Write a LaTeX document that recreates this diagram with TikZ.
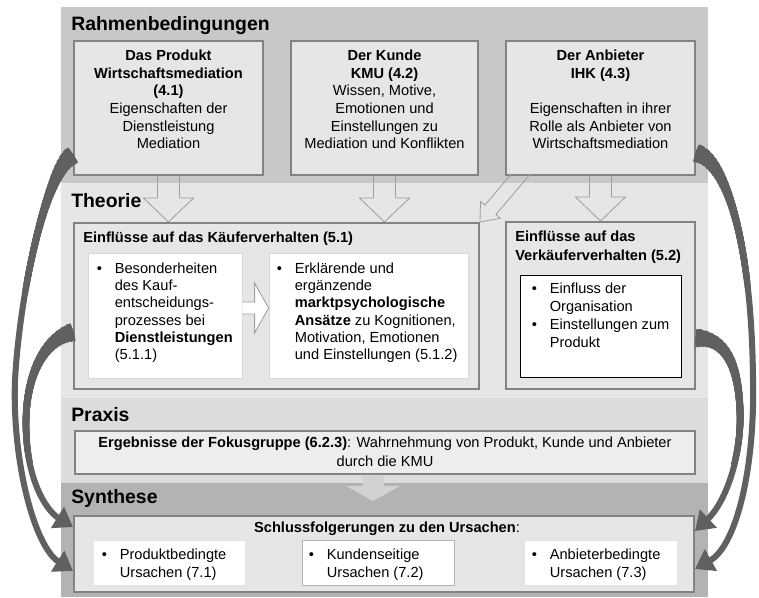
\documentclass[tikz,border=0pt]{standalone}
\usepackage{fontspec}
\setmainfont{Liberation Sans}
\usetikzlibrary{calc,fit,arrows.meta}

\definecolor{bandtop}{HTML}{C8C8C8}
\definecolor{bandtheo}{HTML}{E6E6E6}
\definecolor{bandprax}{HTML}{DCDCDC}
\definecolor{bandsyn}{HTML}{B3B3B3}
\definecolor{boxfill}{HTML}{E6E6E6}
\definecolor{boxline}{HTML}{828282}
\definecolor{swoosh}{HTML}{606060}
\definecolor{pfill}{HTML}{D2D2D2}

\tikzset{
  box/.style={draw=boxline, line width=1.4pt, fill=boxfill, inner sep=0pt},
  whitebox/.style={draw=gray!30, line width=0.6pt, fill=white, inner sep=0pt},
  title/.style={font=\fontsize{13.8}{16}\selectfont\bfseries, anchor=base west, inner sep=0pt},
  txt/.style={font=\fontsize{10.4}{12.6}\selectfont, inner sep=0pt},
  hollow/.style={draw=gray!75, line width=0.6pt},
  curve/.style={draw=swoosh, line width=4.3pt}
}

\newcommand{\bul}{\makebox[12.8pt][l]{\textbullet}}
\newcommand{\ind}{\hspace*{12.8pt}}
% hollow arrow pointing down: tail, tip
\newcommand{\downarrowshape}[2]{%
  \draw[hollow] ($(#1)+(-11,0)$) -- ($(#2)+(-11,-24)$) -- ($(#2)+(-25,-24)$) -- (#2)
    -- ($(#2)+(25,-24)$) -- ($(#2)+(11,-24)$) -- ($(#1)+(11,0)$);}
% thick curved arrow, thinner towards the tip
\newcommand{\swooshpath}[1]{%
  \draw[curve,-{Triangle[length=13pt,width=17pt]}] #1;
  \foreach \i in {1,...,30}{%
    \pgfmathsetmacro\tapw{0.7113*(6+12*exp(-(\i-1)*5/35))}%
    \pgfmathsetmacro\tapl{0.7113*5*\i}%
    \draw[curve,line width=\tapw pt,dash pattern=on \tapl pt off 3000pt] #1;
  }}

\begin{document}
\begin{tikzpicture}[x=0.025cm,y=-0.025cm]
\useasboundingbox (0,0) rectangle (759,598);

% bands
\fill[bandtop] (61,7) rectangle (708,183);
\fill[bandtheo] (61,183) rectangle (708,398);
\fill[bandprax] (61,398) rectangle (708,483);
\fill[bandsyn] (61,483) rectangle (708,597);

\node[title] (trahmen) at (71,30) {Rahmenbedingungen};
\node[title] (ttheorie) at (71,207) {Theorie};
\node[title] (tpraxis) at (71,421) {Praxis};
\node[title] (tsynthese) at (71,503) {Synthese};

% Rahmenbedingungen
\node[box, fit={(74,41) (263,175)}] (produkt) {};
\node[box, fit={(291,41) (478,175)}] (kunde) {};
\node[box, fit={(506,41) (695,175)}] (anbieter) {};

\node[txt, align=center, anchor=north] (produkttext) at ($(produkt.north)+(0,9.5)$)
  {\textbf{Das Produkt}\\\textbf{Wirtschaftsmediation}\\\textbf{(4.1)}\\Eigenschaften der\\Dienstleistung\\Mediation};
\node[txt, align=center, anchor=north] (kundetext) at ($(kunde.north)+(0,9.5)$)
  {\textbf{Der Kunde}\\\textbf{KMU (4.2)}\\Wissen, Motive,\\Emotionen und\\Einstellungen zu\\Mediation und Konflikten};
\node[txt, align=center, anchor=north] (anbietertext) at ($(anbieter.north)+(0,9.5)$)
  {\textbf{Der Anbieter}\\\textbf{IHK (4.3)}\\[12.6pt]Eigenschaften in ihrer\\Rolle als Anbieter von\\Wirtschaftsmediation};

% Theorie
\node[box, fit={(74,223) (479,389)}] (kaeufer) {};
\node[whitebox, fit={(88,253) (242,378)}] (kproz) {};
\node[whitebox, fit={(269,253) (468,378)}] (kansatz) {};
\node[box, fit={(506,222) (695,389)}] (verkaeufer) {};
\node[whitebox, draw=black, fit={(520,275) (681,377)}] (vinner) {};

\node[txt, font=\fontsize{10.4}{12.6}\selectfont\bfseries, anchor=base west] (kaeufertitle)
  at ($(kaeufer.north west)+(10,20)$) {Einflüsse auf das Käuferverhalten (5.1)};
\node[txt, font=\fontsize{10.4}{12.1}\selectfont, align=left, anchor=north west] (kproztext)
  at ($(kproz.north west)+(9,10.5)$)
  {\bul Besonderheiten\\\ind des Kauf-\\\ind entscheidungs-\\\ind prozesses bei\\\ind\textbf{Dienstleistungen}\\\ind(5.1.1)};
\node[txt, font=\fontsize{10.4}{12.1}\selectfont, align=left, anchor=north west] (kansatztext)
  at ($(kansatz.north west)+(8,10.5)$)
  {\bul Erklärende und\\\ind ergänzende\\\ind\textbf{marktpsychologische}\\\ind\textbf{Ansätze} zu Kognitionen,\\\ind Motivation, Emotionen\\\ind und Einstellungen (5.1.2)};
\node[txt, font=\fontsize{10.4}{13.5}\selectfont\bfseries, align=left, anchor=north west] (verkaeufertitle)
  at ($(verkaeufer.north west)+(10,9.5)$) {Einflüsse auf das\\Verkäuferverhalten (5.2)};
\node[txt, font=\fontsize{10.4}{12.8}\selectfont, align=left, anchor=north west] (vinnertext)
  at ($(vinner.north west)+(12,8.5)$)
  {\bul Einfluss der\\\ind Organisation\\\bul Einstellungen zum\\\ind Produkt};

% Praxis and Synthese
\node[box, fill=boxfill!70!white, fit={(75,431) (695,474)}] (praxis) {};
\node[txt, font=\fontsize{10.4}{13.5}\selectfont, align=center, anchor=north] (praxistext)
  at ($(praxis.north)+(0,6.5)$)
  {\textbf{Ergebnisse der Fokusgruppe (6.2.3)}: Wahrnehmung von Produkt, Kunde und Anbieter\\durch die KMU};

\node[box, fit={(74,516) (694,592)}] (synthese) {};
\node[whitebox, draw=gray!20, fit={(93,540) (245,585)}] (sprod) {};
\node[whitebox, draw=gray!60, fit={(302,540) (454,585)}] (skunde) {};
\node[whitebox, draw=gray!20, fit={(524,540) (677,585)}] (sanb) {};
\node[txt, anchor=base] (synthesetitle) at ($(synthese.north)+(3,17)$)
  {\textbf{Schlussfolgerungen zu den Ursachen}:};
\node[txt, font=\fontsize{10.4}{12.8}\selectfont, align=left, anchor=north west] (sprodtext)
  at ($(sprod.north west)+(9,9.5)$) {\bul Produktbedingte\\\ind Ursachen (7.1)};
\node[txt, font=\fontsize{10.4}{12.8}\selectfont, align=left, anchor=north west] (skundetext)
  at ($(skunde.north west)+(7,9.5)$) {\bul Kundenseitige\\\ind Ursachen (7.2)};
\node[txt, font=\fontsize{10.4}{12.8}\selectfont, align=left, anchor=north west] (sanbtext)
  at ($(sanb.north west)+(8,9.5)$) {\bul Anbieterbedingte\\\ind Ursachen (7.3)};

% hollow arrows
\coordinate (tipprodukt) at (produkt.south |- kaeufer.north);
\coordinate (tipkunde) at (kunde.south |- kaeufer.north);
\coordinate (tipanbieter) at (anbieter.south |- verkaeufer.north);
\downarrowshape{produkt.south}{tipprodukt}
\downarrowshape{kunde.south}{tipkunde}
\downarrowshape{anbieter.south}{tipanbieter}
\draw[hollow] ($(kaeufer.north east)+(31.3,-48)$) -- ($(kaeufer.north east)+(4.9,-16.9)$)
  -- ($(kaeufer.north east)+(0.5,-20.6)$) -- (kaeufer.north east)
  -- ($(kaeufer.north east)+(20.3,-3.8)$) -- ($(kaeufer.north east)+(15.9,-7.5)$)
  -- ($(kaeufer.north east)+(50.3,-48)$);

\coordinate (ktail) at ($(kproz.east)+(0,-7.5)$);
\coordinate (ktip) at (kansatz.west |- ktail);
\draw[hollow, fill=white] ($(ktail)+(0,-6)$) -- ($(ktip)+(-14,-6)$) -- ($(ktip)+(-14,-25)$) -- (ktip)
  -- ($(ktip)+(-14,25)$) -- ($(ktip)+(-14,6)$) -- ($(ktail)+(0,6)$);

\coordinate (ptail) at ($(praxis.south)+(-12,0)$);
\coordinate (ptip) at ($(ptail)+(0,26)$);
\fill[pfill] ($(ptail)+(-10.5,0)$) -- ($(ptip)+(-10.5,-15)$) -- ($(ptip)+(-27,-15)$) -- (ptip)
  -- ($(ptip)+(27,-15)$) -- ($(ptip)+(10.5,-15)$) -- ($(ptail)+(10.5,0)$) -- cycle;

% curved arrows
\coordinate (lbend1) at (15,380);
\coordinate (lbend2) at (26,420);
\coordinate (rbend1) at (753,380);
\coordinate (rbend2) at (740,410);
\swooshpath{($(produkt.south west)+(0,-21)$) .. controls +(-26,14) and +(5,-90) .. (lbend1)
  .. controls +(-3,80) and +(-39,-25) .. ($(synthese.south west)+(0,-22)$)}
\swooshpath{($(kaeufer.south west)+(0,-58)$) .. controls +(-26,6) and +(1,-50) .. (lbend2)
  .. controls +(-1,60) and +(-26,-16) .. ($(synthese.north west)+(0,12)$)}
\swooshpath{($(anbieter.south east)+(0,-23)$) .. controls +(32,8) and +(-1,-130) .. (rbend1)
  .. controls +(2,90) and +(41,-23) .. ($(synthese.south east)+(0,-24)$)}
\swooshpath{($(verkaeufer.south east)+(0,-52)$) .. controls +(27,0) and +(-2,-50) .. (rbend2)
  .. controls +(2,50) and +(29,-27) .. ($(synthese.north east)+(0,16)$)}
\end{tikzpicture}
\end{document}
